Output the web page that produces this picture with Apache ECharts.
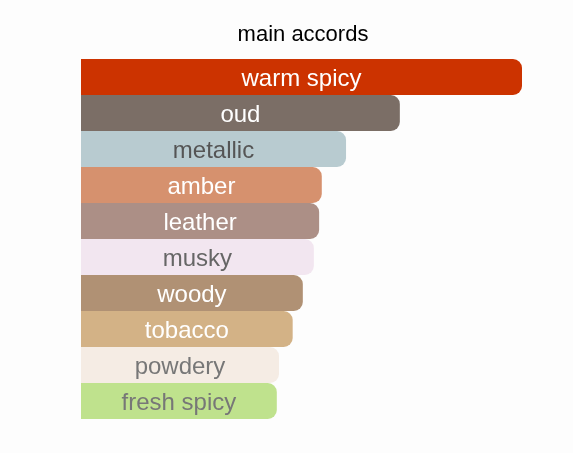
<!DOCTYPE html>
<html>
<head>
<meta charset="utf-8">
<script src="https://cdn.jsdelivr.net/npm/echarts@6/dist/echarts.min.js"></script>
<style>
html,body{margin:0;padding:0;background:#fdfdfd;}
#c{width:573px;height:453px;}
</style>
</head>
<body>
<div id="c"></div>
<script>
const categories = ['warm spicy','oud','metallic','amber','leather','musky','woody','tobacco','powdery','fresh spicy'];
const values = [100, 72.3, 60.1, 54.6, 54.0, 52.8, 50.3, 48.0, 44.9, 44.4];
const barColors = ['#cc3300','#7b6e66','#b8cbd0','#d6916e','#ac8f86','#f2e6f0','#b09174','#d3b286','#f5ece4','#bfe28d'];
const labelColors = ['#ffffff','#ffffff','#555555','#ffffff','#ffffff','#666666','#ffffff','#ffffff','#777777','#777777'];

const chart = echarts.init(document.getElementById('c'));
chart.setOption({
  backgroundColor: '#fdfdfd',
  animation: false,
  title: {
    text: 'main accords',
    left: 298,
    top: 19,
    textAlign: 'center',
    textStyle: { fontFamily: 'Arial, "Liberation Sans", sans-serif', fontSize: 22, fontWeight: 'normal', color: '#000' }
  },
  grid: { left: 81, right: 51, top: 59, height: 360, containLabel: false },
  xAxis: { type: 'value', min: 0, max: 100, show: false },
  yAxis: { type: 'category', data: categories, inverse: true, show: false },
  series: [{
    type: 'bar',
    barCategoryGap: 0,
    data: values.map((v, i) => ({
      value: v,
      itemStyle: { color: barColors[i], borderRadius: [0, 9, 9, 0] },
      label: { color: labelColors[i] }
    })),
    label: {
      show: true,
      position: 'inside',
      offset: [0, 2],
      formatter: p => categories[p.dataIndex],
      fontFamily: 'Arial, "Liberation Sans", sans-serif',
      fontSize: 24
    }
  }]
});
</script>
</body>
</html>
